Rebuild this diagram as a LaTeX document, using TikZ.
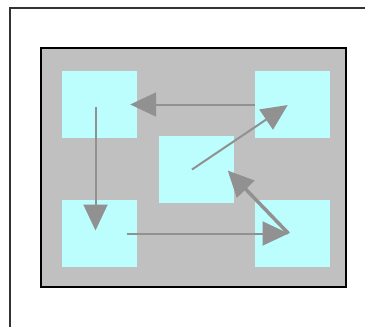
\documentclass[tikz,border=0pt]{standalone}
\usetikzlibrary{arrows.meta}
\definecolor{boardgray}{RGB}{192,192,192}
\definecolor{cellcyan}{RGB}{188,253,253}
\definecolor{arrowgray}{RGB}{145,145,145}
\begin{document}
\begin{tikzpicture}[x=1pt, y=-1pt]
\tikzstyle{board} = [rectangle, draw=black, line width=2pt, fill=boardgray, inner sep=0pt, minimum width=305pt, minimum height=239pt]
\tikzstyle{cell}  = [rectangle, fill=cellcyan, inner sep=0pt, minimum width=75pt, minimum height=67pt]
\tikzstyle{move}  = [-{Triangle[length=26pt, width=24pt]}, arrowgray, line width=2pt]
\useasboundingbox (0,0) rectangle (365,327);
\draw[line width=1.5pt, black!80] (366,8) -- (10,8) -- (10,328);
\node[board] at (193.5, 167.5) (board){};
\node[cell] at (99.5, 104.5) (c_0){};
\node[cell] at (292.5, 104.5) (c_1){};
\node[cell] at (196.0, 169.5) (c_2){};
\node[cell] at (99.5, 233.5) (c_3){};
\node[cell] at (292.5, 233.5) (c_4){};
\draw[move] (c_1.west) -- (c_0.east) [shorten >=-7pt];
\draw[move] ([xshift=-4pt]c_0.center) -- ([xshift=-4pt]c_3.center) [shorten <=2pt, shorten >=3pt];
\draw[move] ([xshift=-10pt]c_3.east) -- ([xshift=-4pt]c_4.center);
\draw[move] ([xshift=-4pt]c_2.center) -- ([xshift=-4pt]c_1.center) [shorten >=1pt];
\draw[move, line width=3.5pt] ([xshift=-4pt]c_4.center) -- ([xshift=-6pt, yshift=-1pt]c_2.east);
\end{tikzpicture}
\end{document}
